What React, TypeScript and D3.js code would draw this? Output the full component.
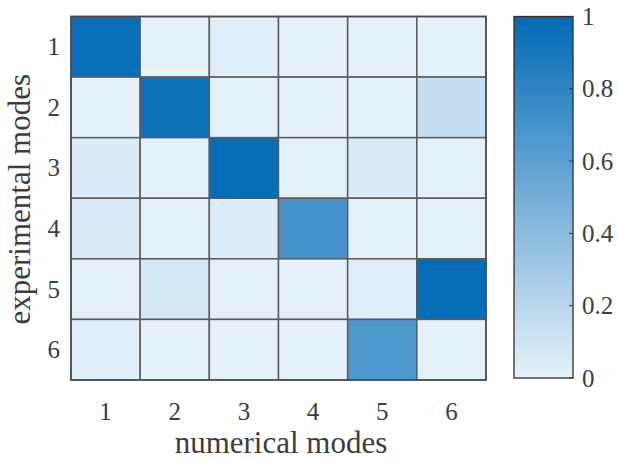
import React, { useEffect, useRef } from 'react';
import * as d3 from 'd3';

const numericalModes = ['1', '2', '3', '4', '5', '6'];
const experimentalModes = ['1', '2', '3', '4', '5', '6'];

// rows = experimental modes 1..6, columns = numerical modes 1..6
const macRow1 = [0.97, 0.01, 0.03, 0.01, 0.01, 0.01];
const macRow2 = [0.01, 0.94, 0.01, 0.01, 0.01, 0.14];
const macRow3 = [0.05, 0.01, 0.98, 0.01, 0.06, 0.01];
const macRow4 = [0.06, 0.01, 0.04, 0.7, 0.01, 0.01];
const macRow5 = [0.01, 0.08, 0.01, 0.01, 0.03, 0.98];
const macRow6 = [0.03, 0.01, 0.01, 0.01, 0.67, 0.01];
const macRows = [macRow1, macRow2, macRow3, macRow4, macRow5, macRow6];

const colorbarTicks = [0, 0.2, 0.4, 0.6, 0.8, 1];

const W = 618;
const H = 461;

export default function App() {
  const ref = useRef<SVGSVGElement>(null);

  useEffect(() => {
    const svg = d3.select(ref.current);
    svg.selectAll('*').remove();

    const margin = { top: 16.5, left: 71, right: 486, bottom: 380 };
    const textColor = '#3d3d3d';
    const font = '"Liberation Serif", "Times New Roman", serif';

    const x = d3.scaleBand().domain(numericalModes).range([margin.left, margin.right]);
    const y = d3.scaleBand().domain(experimentalModes).range([margin.top, margin.bottom]);
    const color = d3.scaleLinear<string>().domain([0, 1]).range(['#e6f2fa', '#006ab5']).clamp(true);

    const cells = macRows.flatMap((row, i) =>
      row.map((v, j) => ({ row: experimentalModes[i], col: numericalModes[j], value: v }))
    );

    svg
      .append('g')
      .selectAll('rect')
      .data(cells)
      .join('rect')
      .attr('x', (d) => x(d.col)!)
      .attr('y', (d) => y(d.row)!)
      .attr('width', x.bandwidth())
      .attr('height', y.bandwidth())
      .attr('fill', (d) => color(d.value))
      .attr('stroke', '#5c5c5c')
      .attr('stroke-width', 1.5);

    svg
      .append('rect')
      .attr('x', margin.left)
      .attr('y', margin.top)
      .attr('width', margin.right - margin.left)
      .attr('height', margin.bottom - margin.top)
      .attr('fill', 'none')
      .attr('stroke', '#4a4a4a')
      .attr('stroke-width', 1.5);

    // tick labels
    svg
      .append('g')
      .selectAll('text')
      .data(experimentalModes)
      .join('text')
      .attr('x', 60)
      .attr('y', (d) => y(d)! + y.bandwidth() / 2 + 8.5)
      .attr('text-anchor', 'end')
      .attr('font-family', font)
      .attr('font-size', 25)
      .attr('fill', textColor)
      .text((d) => d);

    svg
      .append('g')
      .selectAll('text')
      .data(numericalModes)
      .join('text')
      .attr('x', (d) => x(d)! + x.bandwidth() / 2)
      .attr('y', 420)
      .attr('text-anchor', 'middle')
      .attr('font-family', font)
      .attr('font-size', 25)
      .attr('fill', textColor)
      .text((d) => d);

    svg
      .append('text')
      .attr('x', 281)
      .attr('y', 453)
      .attr('text-anchor', 'middle')
      .attr('font-family', font)
      .attr('font-size', 31)
      .attr('fill', textColor)
      .text('numerical modes');

    svg
      .append('text')
      .attr('transform', `translate(30,${(margin.top + margin.bottom) / 2 + 1}) rotate(-90)`)
      .attr('text-anchor', 'middle')
      .attr('font-family', font)
      .attr('font-size', 31)
      .attr('fill', textColor)
      .text('experimental modes');

    // colorbar
    const cb = { x0: 514, x1: 573 };
    const cy = d3.scaleLinear().domain([0, 1]).range([378, 16.5]);
    const defs = svg.append('defs');
    const grad = defs
      .append('linearGradient')
      .attr('id', 'cbgrad')
      .attr('x1', 0)
      .attr('y1', 1)
      .attr('x2', 0)
      .attr('y2', 0);
    grad
      .selectAll('stop')
      .data(d3.range(0, 1.0001, 0.1))
      .join('stop')
      .attr('offset', (d) => d)
      .attr('stop-color', (d) => color(d));

    svg
      .append('rect')
      .attr('x', cb.x0)
      .attr('y', cy(1))
      .attr('width', cb.x1 - cb.x0)
      .attr('height', cy(0) - cy(1))
      .attr('fill', 'url(#cbgrad)')
      .attr('stroke', '#2e2e2e')
      .attr('stroke-width', 1.3);

    const cbAxis = svg.append('g');
    cbAxis
      .selectAll('line')
      .data(colorbarTicks)
      .join('line')
      .attr('x1', cb.x1 - 4)
      .attr('x2', cb.x1)
      .attr('y1', (d) => cy(d))
      .attr('y2', (d) => cy(d))
      .attr('stroke', '#2e2e2e')
      .attr('stroke-width', 1);
    cbAxis
      .selectAll('text')
      .data(colorbarTicks)
      .join('text')
      .attr('x', 582)
      .attr('y', (d) => cy(d) + 8.5)
      .attr('font-family', font)
      .attr('font-size', 25)
      .attr('fill', textColor)
      .text((d) => d3.format('~g')(d));
  }, []);

  return (
    <svg
      ref={ref}
      width={W}
      height={H}
      style={{ position: 'absolute', left: 0, top: 0, background: '#fff' }}
    />
  );
}
